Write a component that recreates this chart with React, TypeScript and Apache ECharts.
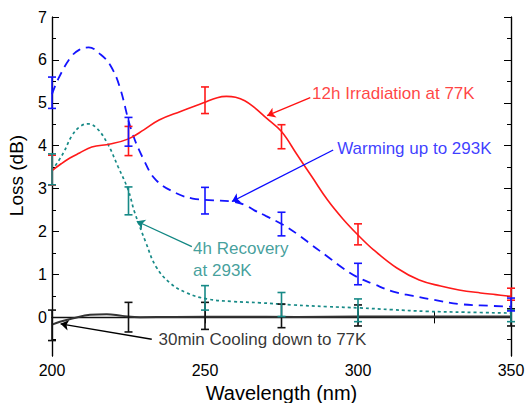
import React, { useEffect, useRef } from "react";
import * as echarts from "echarts";

// ---- data ----
const irradiation: [number, number][] = [
  [200, 3.42], [203, 3.58], [206, 3.72], [209, 3.83], [213, 3.97], [219, 4.04], [225, 4.16],
  [230, 4.37], [235, 4.6], [242, 4.8], [249.5, 5.0], [254, 5.12], [257, 5.15], [260, 5.13],
  [263, 5.05], [266, 4.9], [270, 4.65], [275, 4.33], [280, 3.8], [285, 3.27], [290, 2.74], [295, 2.3],
  [300, 1.92], [305, 1.58], [312.7, 1.15], [320, 0.87], [327, 0.73], [333, 0.64], [340, 0.57],
  [345, 0.53], [350, 0.49],
];
const warming: [number, number][] = [
  [200, 5.2], [202, 5.55], [206, 6.05], [209, 6.24], [212, 6.29], [216, 6.12], [219, 5.88],
  [222, 5.4], [226, 4.35], [230, 3.67], [234, 3.2], [241, 2.88], [246, 2.77], [250, 2.74],
  [255, 2.72], [259, 2.7], [263, 2.62], [266, 2.5], [270, 2.36], [275.5, 2.16], [280, 1.95],
  [285, 1.68], [290, 1.42], [295, 1.15], [300, 0.93], [305, 0.78], [311.5, 0.6], [318, 0.5],
  [324.6, 0.41], [333.4, 0.31], [340, 0.28], [350, 0.25],
];
const recovery: [number, number][] = [
  [200, 3.42], [203.7, 3.83], [206.4, 4.22], [209.2, 4.45], [211.8, 4.51], [214.6, 4.41],
  [218, 4.07], [221.6, 3.51], [224.9, 2.97], [227, 2.45], [230.7, 1.74], [234, 1.18],
  [238.6, 0.8], [244, 0.57], [250.6, 0.43], [259, 0.37], [268, 0.34], [278.8, 0.29],
  [290, 0.25], [300.7, 0.22], [311, 0.18], [322.6, 0.14], [335, 0.12], [350, 0.1],
];
const cooling: [number, number][] = [
  [200, -0.17], [202.6, -0.1], [207, -0.02], [212.4, 0.06], [217.9, 0.075], [223, 0.035],
  [228.8, 0.005], [240, 0.01], [260, 0.015], [280, 0.01], [300, 0.02], [320, 0.02], [350, 0.02],
];
const baseline: [number, number][] = [[200, 0], [350, 0]];

// error bars: [wavelength, low, high]
const irradiationErr: [number, number, number][] = [
  [200, 3.08, 3.78], [225, 3.77, 4.45], [250, 4.75, 5.37], [275, 3.93, 4.49], [300, 1.69, 2.18], [350, 0.4, 0.68],
];
const warmingErr: [number, number, number][] = [
  [200, 4.87, 5.6], [225, 3.99, 4.66], [250, 2.41, 3.03], [275, 1.9, 2.45], [300, 0.76, 1.26], [350, 0.15, 0.45],
];
const recoveryErr: [number, number, number][] = [
  [200, 3.09, 3.81], [225, 2.39, 3.04], [250, 0.17, 0.74], [275, 0.02, 0.58], [300, -0.1, 0.43], [350, -0.1, 0.17],
];
const coolingErr: [number, number, number][] = [
  [200, -0.54, 0.17], [225, -0.34, 0.35], [250, -0.28, 0.35], [275, -0.24, 0.31], [300, -0.2, 0.29], [350, -0.2, 0.2],
];

const yMajorTicks = [0, 1, 2, 3, 4, 5, 6, 7];
const yMinorTicks = [-0.5, 0.5, 1.5, 2.5, 3.5, 4.5, 5.5, 6.5];

// annotations: text anchor [x, y] and arrow [tail, tip]
const annotations = [
  { text: "12h Irradiation at 77K", color: "#ff1111", at: [285.0, 5.21], tail: [284.4, 5.12], tip: [270.3, 4.7] },
  { text: "Warming up to 293K", color: "#0a0aff", at: [293.2, 3.93], tail: [291.9, 3.9], tip: [258.8, 2.7] },
  { text: "4h Recovery\nat 293K", color: "#118783", at: [246.1, 1.34], tail: [245.7, 1.65], tip: [227.7, 2.24] },
  { text: "30min Cooling down to 77K", color: "#000000", at: [234.8, -0.525], tail: [232.6, -0.51], tip: [202.8, -0.15] },
];

const RED = "#ff1a1a";
const BLUE = "#1414ff";
const TEAL = "#178a87";
const BLACK = "#111111";
const FONT = "Liberation Sans";

function errSeries(data: [number, number, number][], color: string) {
  return {
    type: "custom",
    data,
    encode: { x: 0, y: [1, 2] },
    z: 3,
    renderItem: (_p: any, api: any) => {
      const x = api.value(0);
      const lo = api.value(1);
      const hi = api.value(2);
      const a = api.coord([x, hi]);
      const b = api.coord([x, lo]);
      const hw = 4;
      const style = { stroke: color, lineWidth: 1.6 };
      return {
        type: "group",
        children: [
          { type: "line", shape: { x1: a[0], y1: a[1], x2: b[0], y2: b[1] }, style },
          { type: "line", shape: { x1: a[0] - hw, y1: a[1], x2: a[0] + hw, y2: a[1] }, style },
          { type: "line", shape: { x1: b[0] - hw, y1: b[1], x2: b[0] + hw, y2: b[1] }, style },
        ],
      };
    },
  };
}

export default function App() {
  const ref = useRef<HTMLDivElement>(null);
  useEffect(() => {
    if (!ref.current) return;
    const chart = echarts.init(ref.current, null, { renderer: "svg" });
    const axisLine = { show: true, lineStyle: { color: "#000", width: 1.2 } };
    const yBase = { type: "value", min: -0.9, max: 7, splitLine: { show: false }, axisLine };
    const option: any = {
      animation: false,
      textStyle: { fontFamily: FONT },
      grid: { left: 52, top: 17, right: 16, bottom: 47, containLabel: false, outerBoundsMode: "none" },
      xAxis: [
        {
          type: "value", min: 200, max: 350, interval: 25, position: "bottom",
          name: "Wavelength (nm)", nameLocation: "middle", nameGap: 23,
          nameTextStyle: { fontSize: 20, color: "#000", fontFamily: FONT },
          axisLine,
          axisTick: { show: true, inside: true, length: 6, lineStyle: { color: "#000" } },
          axisLabel: { fontSize: 16, color: "#000", fontFamily: FONT, margin: 6,
            formatter: (v: number) => (v % 50 === 0 ? String(v) : "") },
          splitLine: { show: false },
        },
        {
          type: "value", min: 200, max: 350, interval: 25, position: "top",
          axisLine,
          axisTick: { show: true, inside: true, length: 6, lineStyle: { color: "#000" } },
          axisLabel: { show: false }, splitLine: { show: false },
        },
      ],
      yAxis: [
        {
          ...yBase, position: "left",
          name: "Loss (dB)", nameLocation: "middle", nameGap: 26,
          nameTextStyle: { fontSize: 19, color: "#000", fontFamily: FONT, padding: [0, 0, 0, 22] },
          axisTick: { show: true, inside: true, length: 7, customValues: yMajorTicks, lineStyle: { color: "#000" } },
          axisLabel: { fontSize: 16, color: "#000", fontFamily: FONT, margin: 5, customValues: yMajorTicks },
        },
        {
          ...yBase, position: "left",
          axisTick: { show: true, inside: true, length: 4, customValues: yMinorTicks, lineStyle: { color: "#000" } },
          axisLabel: { show: false },
        },
        {
          ...yBase, position: "right",
          axisTick: { show: true, inside: true, length: 7, customValues: yMajorTicks, lineStyle: { color: "#000" } },
          axisLabel: { show: false },
        },
        {
          ...yBase, position: "right",
          axisTick: { show: true, inside: true, length: 4, customValues: yMinorTicks, lineStyle: { color: "#000" } },
          axisLabel: { show: false },
        },
      ],
      series: [
        { type: "line", data: baseline, symbol: "none", lineStyle: { color: BLACK, width: 1.5 }, z: 2 },
        { type: "line", data: cooling, symbol: "none", smooth: 0.4, lineStyle: { color: "#333", width: 2 }, z: 2 },
        { type: "line", data: recovery, symbol: "none", smooth: 0.4, lineStyle: { color: TEAL, width: 1.7, type: [3, 3] }, z: 2 },
        { type: "line", data: warming, symbol: "none", smooth: 0.4, lineStyle: { color: BLUE, width: 1.8, type: [9, 6] }, z: 2 },
        { type: "line", data: irradiation, symbol: "none", smooth: 0.4, lineStyle: { color: RED, width: 1.6 }, z: 2 },
        errSeries(coolingErr, BLACK),
        errSeries(irradiationErr, RED),
        errSeries(recoveryErr, TEAL),
        errSeries(warmingErr, BLUE),
        {
          type: "lines",
          coordinateSystem: "cartesian2d",
          symbol: ["none", "arrow"],
          symbolSize: [0, 8],
          z: 4,
          data: annotations.map((a) => ({
            coords: [a.tail, a.tip],
            lineStyle: { color: a.color, width: 1.3, opacity: 1 },
          })),
        },
        {
          type: "scatter",
          symbolSize: 0,
          z: 5,
          silent: true,
          data: annotations.map((a) => ({
            value: a.at,
            label: {
              show: true, position: "right", distance: 0, formatter: a.text,
              color: a.color, fontSize: 17, fontFamily: FONT, lineHeight: 22,
            },
          })),
        },
      ],
    };
    chart.setOption(option);
    return () => chart.dispose();
  }, []);
  return <div ref={ref} style={{ position: "absolute", left: 0, top: 0, width: 527, height: 403 }} />;
}
